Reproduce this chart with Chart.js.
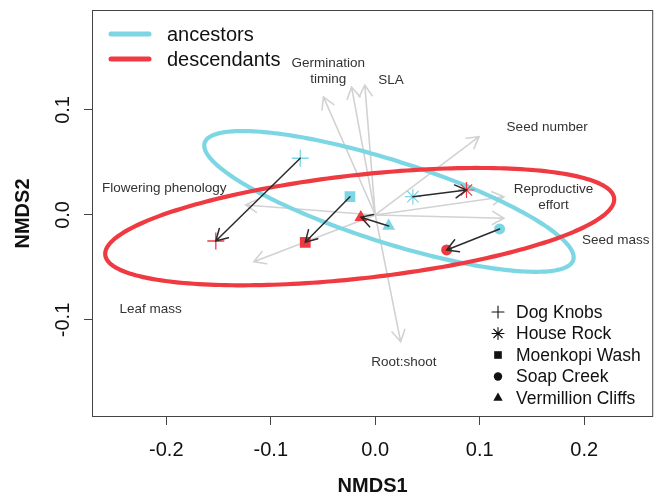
<!DOCTYPE html>
<html>
<head>
<meta charset="utf-8">
<script src="https://cdn.jsdelivr.net/npm/chart.js@4.4.1/dist/chart.umd.min.js"></script>
<style>
  html, body { margin: 0; padding: 0; background: #fff; }
  canvas { display: block; }
</style>
</head>
<body>
<canvas id="c" width="663" height="498"></canvas>
<script>
// ---- NMDS site scores (ancestors -> descendants) ----
const sites = ['Dog Knobs', 'House Rock', 'Moenkopi Wash', 'Soap Creek', 'Vermillion Cliffs'];
const ancestorX   = [-0.0718, 0.0360, -0.0242, 0.1190, 0.0128];
const ancestorY   = [ 0.0540, 0.0174,  0.0174, -0.0133, -0.0105];
const descendantX = [-0.1526, 0.0873, -0.0670, 0.0683, -0.0138];
const descendantY = [-0.0248, 0.0238, -0.0260, -0.0333, -0.0022];

// ---- trait vectors (fitted with envfit) ----
const traitArrowX = [-0.0496, -0.0227, -0.0100, 0.0993, 0.1231,  0.1231, -0.1240, -0.1162,  0.0243];
const traitArrowY = [ 0.1124,  0.1219,  0.1238, 0.0746, 0.0174, -0.0031,  0.0095, -0.0445, -0.1207];
const traitLabels = ['Germination\ntiming', 'SLA', 'Seed number', 'Reproductive\neffort', 'Seed mass',
                     'Flowering phenology', 'Leaf mass', 'Root:shoot'];
const traitLabelX = [-0.0449, 0.0150, 0.1645, 0.1706,  0.2302, -0.2020, -0.2150,  0.0274];
const traitLabelY = [ 0.1367, 0.1286, 0.0838, 0.0167, -0.0238,  0.0254, -0.0895, -0.1400];

// ---- 95% dispersion ellipses per generation ----
const groups          = ['ancestors', 'descendants'];
const ellipseCenterX  = [0.0131, -0.0149];
const ellipseCenterY  = [0.0129, -0.0111];
const ellipseSemiMajor = [0.185, 0.245];
const ellipseSemiMinor = [0.039, 0.0492];
const ellipseAngleDeg  = [-17.55, 6.33];

// ---- axis ticks ----
const xTicks = [-0.2, -0.1, 0.0, 0.1, 0.2];
const yTicks = [-0.1, 0.0, 0.1];

// styling
const groupColors = ['#7dd6e4', '#ef3a41'];
const siteStyles  = ['cross', 'star', 'rect', 'circle', 'triangle'];
const siteRadius  = [8.5, 8, 7.6, 5.5, 7.4];
const siteBorder  = [1.3, 1.2, 0, 0, 0];
const FONT = "'Liberation Sans', Arial, Helvetica, sans-serif";

Chart.defaults.font.family = FONT;

function drawArrow(ctx, x0, y0, x1, y1, len) {
  const ang = Math.atan2(y1 - y0, x1 - x0);
  const spread = Math.PI / 6;
  ctx.beginPath();
  ctx.moveTo(x0, y0);
  ctx.lineTo(x1, y1);
  ctx.moveTo(x1 - len * Math.cos(ang - spread), y1 - len * Math.sin(ang - spread));
  ctx.lineTo(x1, y1);
  ctx.lineTo(x1 - len * Math.cos(ang + spread), y1 - len * Math.sin(ang + spread));
  ctx.stroke();
}

const ordination = {
  id: 'ordination',
  beforeDatasetsDraw(chart) {
    const { ctx, scales: { x, y } } = chart;
    const ox = x.getPixelForValue(0), oy = y.getPixelForValue(0);
    ctx.save();
    // trait vectors
    ctx.strokeStyle = '#d2d2d2';
    ctx.lineWidth = 1.6;
    ctx.lineCap = 'round';
    for (let i = 0; i < traitArrowX.length; i++) {
      drawArrow(ctx, ox, oy, x.getPixelForValue(traitArrowX[i]), y.getPixelForValue(traitArrowY[i]), 13);
    }
    // trait labels
    ctx.fillStyle = '#333';
    ctx.font = '13.5px ' + FONT;
    ctx.textAlign = 'center';
    ctx.textBaseline = 'middle';
    traitLabels.forEach((lab, i) => {
      const lines = lab.split('\n');
      const cx = x.getPixelForValue(traitLabelX[i]);
      const cy = y.getPixelForValue(traitLabelY[i]);
      const lh = 16;
      lines.forEach((ln, k) => ctx.fillText(ln, cx, cy + (k - (lines.length - 1) / 2) * lh));
    });
    // ellipses
    ctx.lineWidth = 4.2;
    ctx.lineJoin = 'round';
    for (let g = 0; g < groups.length; g++) {
      const th = ellipseAngleDeg[g] * Math.PI / 180;
      const a = ellipseSemiMajor[g], b = ellipseSemiMinor[g];
      ctx.strokeStyle = groupColors[g];
      ctx.beginPath();
      for (let k = 0; k <= 240; k++) {
        const t = k / 240 * Math.PI * 2;
        const dx = a * Math.cos(t), dy = b * Math.sin(t);
        const px = x.getPixelForValue(ellipseCenterX[g] + dx * Math.cos(th) - dy * Math.sin(th));
        const py = y.getPixelForValue(ellipseCenterY[g] + dx * Math.sin(th) + dy * Math.cos(th));
        if (k === 0) ctx.moveTo(px, py); else ctx.lineTo(px, py);
      }
      ctx.closePath();
      ctx.stroke();
    }
    ctx.restore();
  },
  afterDatasetsDraw(chart) {
    const { ctx, chartArea: ca, scales: { x, y } } = chart;
    ctx.save();
    // ancestor -> descendant shifts
    ctx.strokeStyle = '#2b2b2b';
    ctx.lineWidth = 1.5;
    ctx.lineCap = 'round';
    for (let i = 0; i < sites.length; i++) {
      drawArrow(ctx,
        x.getPixelForValue(ancestorX[i]), y.getPixelForValue(ancestorY[i]),
        x.getPixelForValue(descendantX[i]), y.getPixelForValue(descendantY[i]), 13);
    }
    // plot frame
    ctx.lineCap = 'butt';
    ctx.strokeStyle = '#444';
    ctx.lineWidth = 1;
    ctx.strokeRect(ca.left + 0.5, ca.top + 0.5, ca.right - ca.left - 1, ca.bottom - ca.top - 1);

    // generation legend
    ctx.font = '20px ' + FONT;
    ctx.textAlign = 'left';
    ctx.textBaseline = 'middle';
    groups.forEach((g, i) => {
      const ly = ca.top + 24 + i * 25;
      ctx.strokeStyle = groupColors[i];
      ctx.lineWidth = 5;
      ctx.lineCap = 'round';
      ctx.beginPath();
      ctx.moveTo(ca.left + 19, ly);
      ctx.lineTo(ca.left + 57, ly);
      ctx.stroke();
      ctx.fillStyle = '#111';
      ctx.fillText(g, ca.left + 75, ly + 1);
    });

    // site legend
    const legR = [6, 6, 5.4, 4.2, 5.4];
    ctx.font = '17.5px ' + FONT;
    sites.forEach((s, i) => {
      const ly = ca.bottom - 105 + i * 21.5;
      ctx.fillStyle = '#111';
      ctx.strokeStyle = '#111';
      ctx.lineWidth = (siteStyles[i] === 'cross' || siteStyles[i] === 'star') ? 1.1 : 0.01;
      Chart.helpers.drawPoint(ctx, { pointStyle: siteStyles[i], rotation: 0, radius: legR[i], borderWidth: ctx.lineWidth }, 498, ly);
      ctx.fillStyle = '#111';
      ctx.fillText(s, 516, ly + 1);
    });
    ctx.restore();
  }
};

const toPoints = (xs, ys) => xs.map((v, i) => ({ x: v, y: ys[i] }));

new Chart(document.getElementById('c'), {
  type: 'scatter',
  data: {
    datasets: [
      {
        label: groups[1],
        data: toPoints(descendantX, descendantY),
        pointStyle: siteStyles,
        pointRadius: siteRadius,
        pointBorderWidth: siteBorder,
        backgroundColor: groupColors[1],
        borderColor: groupColors[1]
      },
      {
        label: groups[0],
        data: toPoints(ancestorX, ancestorY),
        pointStyle: siteStyles,
        pointRadius: siteRadius,
        pointBorderWidth: siteBorder,
        backgroundColor: groupColors[0],
        borderColor: groupColors[0]
      }
    ]
  },
  options: {
    responsive: false,
    animation: false,
    events: [],
    layout: { padding: { top: 10, right: 6, left: 0, bottom: 0 } },
    plugins: { legend: { display: false }, tooltip: { enabled: false } },
    scales: {
      x: {
        type: 'linear',
        min: -0.2711, max: 0.2660,
        afterBuildTicks: s => { s.ticks = xTicks.map(v => ({ value: v })); },
        afterFit: s => { s.height = 81; s.paddingLeft = 0; s.paddingRight = 0; },
        grid: { drawOnChartArea: false, tickLength: 8, tickColor: '#444', tickWidth: 1 },
        border: { display: false },
        ticks: { font: { size: 20 }, color: '#111', padding: 13, maxRotation: 0,
                 callback: v => Number(v).toFixed(1) },
        title: { display: true, text: 'NMDS1', color: '#111',
                 font: { size: 20, weight: 'bold' }, padding: { top: 0, bottom: 0 } }
      },
      y: {
        type: 'linear',
        min: -0.1924, max: 0.1952,
        afterBuildTicks: s => { s.ticks = yTicks.map(v => ({ value: v })); },
        afterFit: s => { s.width = 92; s.paddingTop = 0; s.paddingBottom = 0; },
        grid: { drawOnChartArea: false, tickLength: 8, tickColor: '#444', tickWidth: 1 },
        border: { display: false },
        ticks: { font: { size: 20 }, color: '#111', padding: 3, minRotation: 90, maxRotation: 90,
                 crossAlign: 'center', callback: v => Number(v).toFixed(1) },
        title: { display: true, text: 'NMDS2', color: '#111',
                 font: { size: 20, weight: 'bold' }, padding: { top: 11, bottom: 0 } }
      }
    }
  },
  plugins: [ordination]
});
</script>
</body>
</html>
